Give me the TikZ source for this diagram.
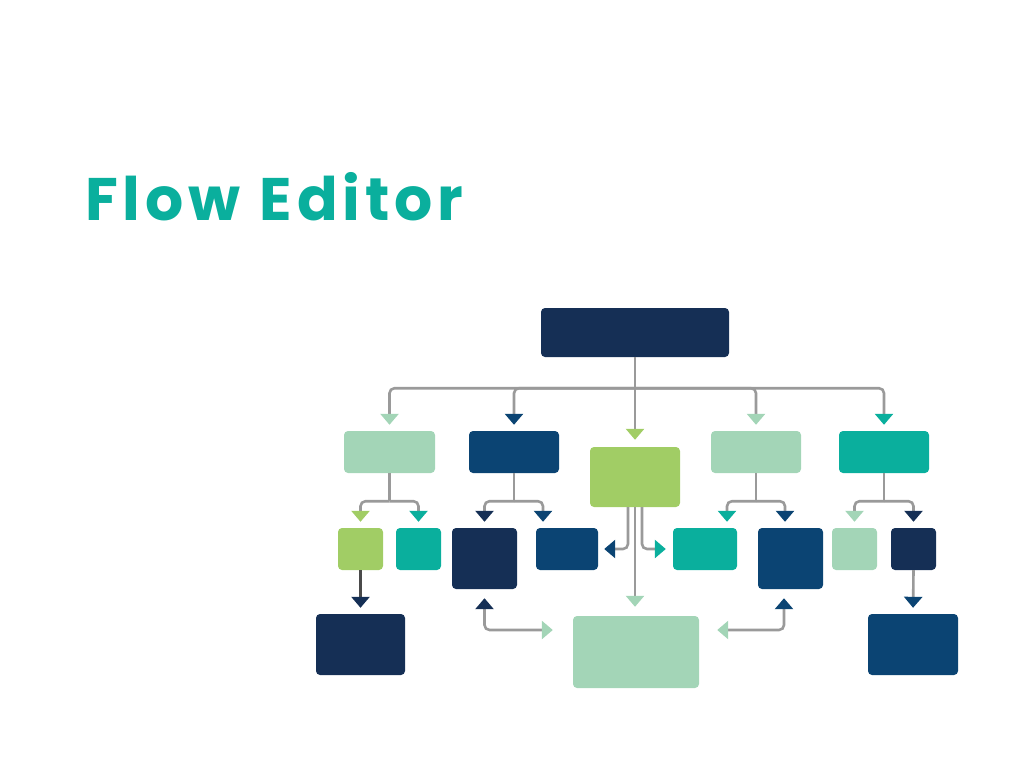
\documentclass[tikz,border=0pt]{standalone}
\usepackage{fontspec}
\newfontfamily\titlefont{Poppins}[LetterSpace=8]
\usetikzlibrary{arrows.meta}
\definecolor{dnavy}{HTML}{152F55}
\definecolor{nblue}{HTML}{0B4473}
\definecolor{tealc}{HTML}{0AAF9D}
\definecolor{mint}{HTML}{A3D5B7}
\definecolor{lime}{HTML}{A1CD65}
\definecolor{lgray}{HTML}{9A9A9A}
\definecolor{dgray}{HTML}{4A4A4A}
\tikzset{
  box/.style={rectangle, rounded corners=4pt, inner sep=0pt, draw=none},
  conn/.style={draw=lgray, line width=2.6pt, rounded corners=5pt},
  tip/.style={arrows={-Triangle[width=18pt,length=11pt,color=#1]}},
  bitip/.style 2 args={arrows={Triangle[width=18pt,length=11pt,color=#1]-Triangle[width=18pt,length=11pt,color=#2]}},
}
\begin{document}
\begin{tikzpicture}[x=1pt,y=-1pt]
\useasboundingbox (0,0) rectangle (1024,768);
\node[anchor=base west, text=tealc, inner sep=0pt,
      font=\titlefont\bfseries\fontsize{60}{60}\selectfont] (title) at (85,220) {Flow\hspace{2pt} Editor};
% nodes
\node[box, fill=dnavy, minimum width=188pt, minimum height=49pt] (top) at (635,332.5) {};
\node[box, fill=mint,  minimum width=91pt, minimum height=42pt] (A) at (389.5,452) {};
\node[box, fill=nblue, minimum width=90pt, minimum height=42pt] (B) at (514,452) {};
\node[box, fill=lime,  minimum width=90pt, minimum height=60pt] (C) at (635,477) {};
\node[box, fill=mint,  minimum width=90pt, minimum height=42pt] (D) at (756,452) {};
\node[box, fill=tealc, minimum width=90pt, minimum height=42pt] (E) at (884,452) {};
\node[box, fill=lime,  minimum width=45pt, minimum height=42pt] (A1) at (360.5,549) {};
\node[box, fill=tealc, minimum width=45pt, minimum height=42pt] (A2) at (418.5,549) {};
\node[box, fill=dnavy, minimum width=65pt, minimum height=61pt] (B1) at (484.5,558.5) {};
\node[box, fill=nblue, minimum width=62pt, minimum height=42pt] (B2) at (567,549) {};
\node[box, fill=tealc, minimum width=64pt, minimum height=42pt] (D1) at (705,549) {};
\node[box, fill=nblue, minimum width=65pt, minimum height=61pt] (D2) at (790.5,558.5) {};
\node[box, fill=mint,  minimum width=45pt, minimum height=42pt] (E1) at (854.5,549) {};
\node[box, fill=dnavy, minimum width=45pt, minimum height=42pt] (E2) at (913.5,549) {};
\node[box, fill=dnavy, minimum width=89pt, minimum height=61pt] (L) at (360.5,644.5) {};
\node[box, fill=nblue, minimum width=90pt, minimum height=61pt] (R) at (913,644.5) {};
\node[box, fill=mint,  minimum width=126pt, minimum height=72pt] (M) at (636,652) {};
% bus coordinates
\coordinate (bus) at ([yshift=-31pt]top.south);
\coordinate (aj) at ([yshift=-28pt]A.south);
\coordinate (bj) at ([yshift=-28pt]B.south);
\coordinate (dj) at ([yshift=-28pt]D.south);
\coordinate (ej) at ([yshift=-28pt]E.south);
% top level
\draw[conn, tip=lime, shorten >=7pt] (top.south) -- (C.north);
\draw[conn, tip=mint,  shorten >=6pt] (bus) -| (A.north);
\draw[conn, tip=nblue, shorten >=6pt] (bus) -| (B.north);
\draw[conn, tip=mint,  shorten >=6pt] (bus) -| (D.north);
\draw[conn, tip=tealc, shorten >=6pt] (bus) -| (E.north);
% second level
\draw[conn] (A.south) -- (aj);
\draw[conn, tip=lime,  shorten >=6pt] (aj) -| (A1.north);
\draw[conn, tip=tealc, shorten >=6pt] (aj) -| (A2.north);
\draw[conn] (B.south) -- (bj);
\draw[conn, tip=dnavy, shorten >=6pt] (bj) -| (B1.north);
\draw[conn, tip=nblue, shorten >=6pt] (bj) -| ([xshift=-24pt]B2.north);
\draw[conn] (D.south) -- (dj);
\draw[conn, tip=tealc, shorten >=6pt] (dj) -| ([xshift=22pt]D1.north);
\draw[conn, tip=nblue, shorten >=6pt] (dj) -| ([xshift=-5.5pt]D2.north);
\draw[conn] (E.south) -- (ej);
\draw[conn, tip=mint,  shorten >=6pt] (ej) -| (E1.north);
\draw[conn, tip=dnavy, shorten >=6pt] (ej) -| (E2.north);
% from center box
\draw[conn, tip=nblue, shorten >=6pt] ([xshift=-7pt]C.south) |- (B2.east);
\draw[conn, tip=tealc, shorten >=7pt] ([xshift=7pt]C.south) |- (D1.west);
\draw[conn, tip=mint,  shorten >=9pt] (C.south) -- (C.south |- M.north);
% bottom level
\draw[conn, bitip={dnavy}{mint}, shorten <=9pt, shorten >=20pt] (B1.south) |- ([yshift=22pt]M.west);
\draw[conn, bitip={nblue}{mint}, shorten <=9pt, shorten >=18pt] ([xshift=-6.5pt]D2.south) |- ([yshift=22pt]M.east);
\draw[conn, draw=dgray, tip=dnavy, shorten >=6pt] (A1.south) -- (L.north);
\draw[conn, tip=nblue, shorten >=6pt] (E2.south) -- (R.north);
\end{tikzpicture}
\end{document}
